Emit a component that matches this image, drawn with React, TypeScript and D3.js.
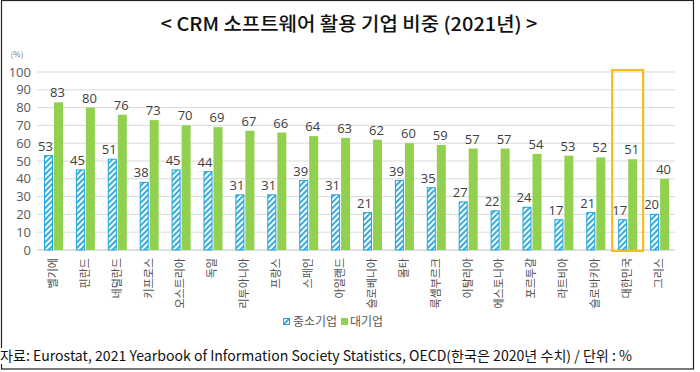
import { useEffect, useRef } from 'react'
import { select, scaleBand, scaleLinear, axisLeft } from 'd3'

// data (%)
const countries = ['벨기에', '핀란드', '네덜란드', '키프로스', '오스트리아', '독일', '리투아니아', '프랑스', '스페인', '아일랜드',
  '슬로베니아', '몰타', '룩셈부르크', '이탈리아', '에스토니아', '포르투갈', '라트비아', '슬로바키아', '대한민국', '그리스']
const smeValues = [53, 45, 51, 38, 45, 44, 31, 31, 39, 31, 21, 39, 35, 27, 22, 24, 17, 21, 17, 20]
const largeValues = [83, 80, 76, 73, 70, 69, 67, 66, 64, 63, 62, 60, 59, 57, 57, 54, 53, 52, 51, 40]
const seriesNames = ['중소기업', '대기업']
const yTicks = [0, 10, 20, 30, 40, 50, 60, 70, 80, 90, 100]
const highlight = '대한민국'

const BLUE = '#1ea5dc'
const GREEN = '#92d050'
const FONT = '"Noto Sans CJK KR", "Noto Sans", sans-serif'

export default function App() {
  const ref = useRef<SVGSVGElement>(null)

  useEffect(() => {
    const svg = select(ref.current)
    svg.selectAll('*').remove()

    const left = 37, right = 675, top = 72, bottom = 250

    const x = scaleBand<string>().domain(countries).range([left, right])
    const xs = scaleBand<string>().domain(seriesNames).range([7, 26]).paddingInner(0.1)
    const y = scaleLinear().domain([0, 100]).range([bottom, top])

    // hatch for the small-firm bars
    const defs = svg.append('defs')
    const pat = defs.append('pattern')
      .attr('id', 'hatch')
      .attr('patternUnits', 'userSpaceOnUse')
      .attr('width', 4).attr('height', 4)
      .attr('patternTransform', 'rotate(45)')
    pat.append('rect').attr('width', 4).attr('height', 4).attr('fill', '#fff')
    pat.append('rect').attr('width', 1.8).attr('height', 4).attr('fill', BLUE)

    svg.append('rect').attr('width', 700).attr('height', 372).attr('fill', '#fff')
    // outer frame
    svg.append('rect')
      .attr('x', 1.5).attr('y', 0.5).attr('width', 692).attr('height', 368.5)
      .attr('fill', 'none').attr('stroke', '#222').attr('stroke-width', 1.2)

    // title
    svg.append('text')
      .attr('x', 349).attr('y', 31)
      .attr('text-anchor', 'middle')
      .attr('textLength', 377).attr('lengthAdjust', 'spacingAndGlyphs')
      .style('font', `500 19px ${FONT}`)
      .attr('fill', '#111')
      .text('< CRM 소프트웨어 활용 기업 비중 (2021년) >')

    svg.append('text')
      .attr('x', 17).attr('y', 57)
      .attr('text-anchor', 'middle')
      .style('font', `8px ${FONT}`)
      .attr('fill', '#777')
      .text('(%)')

    // gridlines
    svg.append('g')
      .selectAll('line')
      .data(yTicks.slice(1))
      .join('line')
      .attr('x1', left).attr('x2', right)
      .attr('y1', d => y(d)).attr('y2', d => y(d))
      .attr('stroke', '#d9d9d9').attr('stroke-width', 1)

    // y axis labels
    const yAxis = svg.append('g')
      .attr('transform', `translate(${left - 6},0)`)
      .call(axisLeft(y).tickValues(yTicks).tickSize(0).tickPadding(0))
    yAxis.select('.domain').remove()
    yAxis.selectAll('text')
      .attr('fill', '#595959')
      .style('font', '13px "Open Sans", sans-serif')

    // base line
    svg.append('line')
      .attr('x1', left).attr('x2', right)
      .attr('y1', y(0)).attr('y2', y(0))
      .attr('stroke', '#bfbfbf')

    const rows = countries.map((c, i) => ({ c, sme: smeValues[i], large: largeValues[i] }))

    const g = svg.append('g')
      .selectAll('g')
      .data(rows)
      .join('g')
      .attr('transform', d => `translate(${x(d.c)},0)`)

    g.append('rect')
      .attr('x', xs('중소기업')! + 0.5)
      .attr('width', xs.bandwidth() - 1)
      .attr('y', d => y(d.sme))
      .attr('height', d => y(0) - y(d.sme))
      .attr('fill', 'url(#hatch)')
      .attr('stroke', BLUE).attr('stroke-width', 1)

    g.append('rect')
      .attr('x', xs('대기업')!)
      .attr('width', xs.bandwidth())
      .attr('y', d => y(d.large))
      .attr('height', d => y(0) - y(d.large))
      .attr('fill', GREEN)

    const labelStyle = `13px "Open Sans", sans-serif`
    g.append('text')
      .attr('x', xs('중소기업')! + xs.bandwidth() / 2 - 3)
      .attr('y', d => y(d.sme) - 5)
      .attr('text-anchor', 'middle')
      .style('font', labelStyle)
      .attr('fill', '#404040')
      .text(d => d.sme)

    g.append('text')
      .attr('x', xs('대기업')! + xs.bandwidth() / 2 - 1)
      .attr('y', d => y(d.large) - 5)
      .attr('text-anchor', 'middle')
      .style('font', labelStyle)
      .attr('fill', '#404040')
      .text(d => d.large)

    // category labels, rotated
    g.append('text')
      .attr('transform', `translate(${x.bandwidth() / 2},${bottom + 8}) rotate(-90)`)
      .attr('dy', '0.35em')
      .attr('text-anchor', 'end')
      .style('font', `11px ${FONT}`)
      .attr('fill', '#505050')
      .text(d => d.c)

    // highlight box for Korea
    svg.append('rect')
      .attr('x', x(highlight)! + 1)
      .attr('y', y(100) - 2)
      .attr('width', x.bandwidth() - 1)
      .attr('height', y(0) - y(100) + 3)
      .attr('fill', 'none')
      .attr('stroke', '#f5bd1f').attr('stroke-width', 2.2)

    // legend
    const lg = svg.append('g').attr('transform', 'translate(283,318)')
    lg.append('rect').attr('x', 0.5).attr('y', 0.5).attr('width', 6).attr('height', 6)
      .attr('fill', 'url(#hatch)').attr('stroke', BLUE)
    lg.append('text').attr('x', 10).attr('y', 8)
      .style('font', `12px ${FONT}`).attr('fill', '#595959').text(seriesNames[0])
    lg.append('rect').attr('x', 58).attr('y', 0).attr('width', 7).attr('height', 7).attr('fill', GREEN)
    lg.append('text').attr('x', 67).attr('y', 8)
      .style('font', `12px ${FONT}`).attr('fill', '#595959').text(seriesNames[1])

    // source note, sitting over the frame
    svg.append('rect').attr('x', 0).attr('y', 348).attr('width', 640).attr('height', 16).attr('fill', '#fff')
    svg.append('text')
      .attr('x', 0).attr('y', 361)
      .attr('textLength', 632).attr('lengthAdjust', 'spacingAndGlyphs')
      .style('font', `14px ${FONT}`)
      .attr('fill', '#111')
      .text('자료: Eurostat, 2021 Yearbook of Information Society Statistics, OECD(한국은 2020년 수치) / 단위 : %')
  }, [])

  return (
    <div style={{ position: 'absolute', left: 0, top: 0 }}>
      <svg ref={ref} width={700} height={372} style={{ display: 'block' }}></svg>
    </div>
  )
}
